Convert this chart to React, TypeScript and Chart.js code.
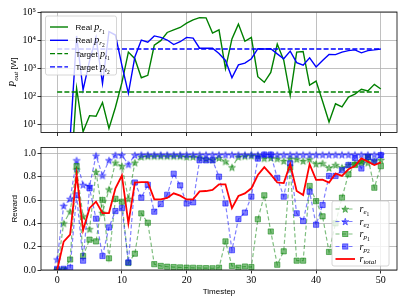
import React, { useEffect, useRef } from "react";
import { Chart, registerables } from "chart.js";

Chart.register(...registerables);

// ---------------- data ----------------
const timesteps = [
  0, 1, 2, 3, 4, 5, 6, 7, 8, 9, 10, 11, 12, 13, 14, 15, 16, 17, 18, 19, 20, 21, 22, 23, 24, 25,
  26, 27, 28, 29, 30, 31, 32, 33, 34, 35, 36, 37, 38, 39, 40, 41, 42, 43, 44, 45, 46, 47, 48, 49, 50,
];
const xTickValues = [0, 10, 20, 30, 40, 50];
const topYTickValues = [10, 100, 1000, 10000, 100000];
const bottomYTickValues = [0, 0.2, 0.4, 0.6, 0.8, 1.0];

const realPr1 = [
  0.05, 0.05, 0.05, 190, 5.3, 20, 19, 59, 7, 40,
  300, 3700, 2150, 450, 550, 6500, 9500, 18600, 23000, 28000,
  40000, 52000, 63000, 62000, 17600, 23000, 960, 11000, 37000, 9000,
  12500, 490, 310, 700, 7200, 1900, 104, 3700, 3900, 245,
  340, 65, 11.8, 53, 41, 92, 117, 174, 151, 262, 178,
];
const realPr2 = [
  1, 2, 3, 14000, 165, 1800, 12500, 280, 20000, 15000,
  1250, 125, 2500, 10000, 8300, 14000, 12400, 10000, 6900, 8700,
  12400, 11700, 5100, 5100, 5100, 3300, 1860, 450, 1300, 1500,
  2150, 4900, 4800, 4900, 3200, 2150, 4000, 1550, 1260, 2300,
  1100, 1870, 3050, 3000, 3700, 4200, 4450, 3500, 4200, 4450, 4800,
];
const targetPt1 = 140;
const targetPt2 = 4800;

const rE1 = [
  0.0, 0.4, 0.5, 0.86, 0.46, 0.35, 0.84, 0.49, 0.69, 0.92,
  0.89, 0.61, 0.92, 0.97, 0.975, 0.975, 0.975, 0.975, 0.975, 0.975,
  0.97, 0.97, 0.965, 0.95, 0.945, 0.96, 0.93, 0.88, 0.97, 0.975,
  0.98, 0.977, 0.957, 0.96, 0.955, 0.934, 0.955, 0.95, 0.934, 0.949,
  0.91, 0.914, 0.875, 0.9, 0.877, 0.9, 0.914, 0.934, 0.92, 0.934, 0.943,
];
const rE2 = [
  0.09, 0.55, 0.61, 0.94, 0.73, 0.72, 0.98, 0.81, 0.94, 0.985,
  0.985, 0.905, 0.985, 0.988, 0.988, 0.988, 0.988, 0.988, 0.988, 0.988,
  0.988, 0.988, 0.988, 0.988, 0.988, 0.988, 0.988, 0.988, 0.988, 0.988,
  0.988, 0.988, 0.988, 0.988, 0.988, 0.988, 0.988, 0.988, 0.988, 0.988,
  0.988, 0.988, 0.988, 0.988, 0.988, 0.988, 0.988, 0.988, 0.988, 0.988, 0.988,
];
const rP1 = [
  0.0, 0.0, 0.09, 0.89, 0.12, 0.26, 0.245, 0.6, 0.1, 0.61,
  0.585, 0.06, 0.14, 0.485, 0.405, 0.05, 0.035, 0.028, 0.025, 0.022,
  0.02, 0.019, 0.017, 0.016, 0.015, 0.02, 0.245, 0.035, 0.02, 0.03,
  0.025, 0.435, 0.64, 0.33, 0.045, 0.16, 0.88, 0.08, 0.08, 0.72,
  0.59, 0.46, 0.155, 0.4, 0.62, 0.82, 0.9, 0.92, 0.965, 0.705, 0.89,
];
const rP2 = [
  0.01, 0.01, 0.02, 0.64, 0.08, 0.7, 0.44, 0.12, 0.365, 0.505,
  0.53, 0.065, 0.75, 0.62, 0.73, 0.5, 0.565, 0.645, 0.825, 0.725,
  0.57, 0.58, 0.94, 0.94, 0.94, 0.8, 0.57, 0.17, 0.437, 0.492,
  0.629, 0.955, 0.99, 0.99, 0.79, 0.629, 0.914, 0.486, 0.42, 0.671,
  0.388, 0.557, 0.806, 0.806, 0.855, 0.9, 0.96, 0.87, 0.97, 0.93, 0.985,
];
const rTotal = [
  0.0, 0.243, 0.303, 0.82, 0.34, 0.53, 0.586, 0.488, 0.488, 0.7,
  0.81, 0.4, 0.75, 0.753, 0.753, 0.605, 0.605, 0.618, 0.657, 0.637,
  0.605, 0.605, 0.674, 0.677, 0.686, 0.734, 0.734, 0.53, 0.634, 0.657,
  0.7, 0.814, 0.882, 0.82, 0.75, 0.745, 0.906, 0.678, 0.643, 0.907,
  0.772, 0.774, 0.749, 0.827, 0.806, 0.863, 0.891, 0.957, 0.929, 0.9, 0.923,
];

// ---------------- styles ----------------
const GREEN = "#008000";
const BLUE = "#0000ff";
const RED = "#ff0000";
const GREEN_A = "rgba(0,128,0,0.5)";
const BLUE_A = "rgba(0,0,255,0.5)";
const GREEN_E = "rgba(0,128,0,0.65)";
const BLUE_E = "rgba(0,0,255,0.65)";
const SERIF = '"Liberation Serif", "DejaVu Serif", serif';
const SANS = '"Liberation Sans", "DejaVu Sans", sans-serif';
const GRID = "#b0b0b0";
const SUP: Record<string, string> = {
  "0": "⁰", "1": "¹", "2": "²", "3": "³", "4": "⁴", "5": "⁵", "6": "⁶", "7": "⁷", "8": "⁸", "9": "⁹",
};

type Seg = { t: string; font: string; dy?: number };

function drawSegs(ctx: CanvasRenderingContext2D, x: number, y: number, segs: Seg[], center: boolean) {
  ctx.save();
  ctx.textBaseline = "alphabetic";
  ctx.textAlign = "left";
  let w = 0;
  for (const s of segs) {
    ctx.font = s.font;
    w += ctx.measureText(s.t).width;
  }
  let cx = center ? x - w / 2 : x;
  for (const s of segs) {
    ctx.font = s.font;
    ctx.fillText(s.t, cx, y + (s.dy || 0));
    cx += ctx.measureText(s.t).width;
  }
  ctx.restore();
}

function starPath(ctx: CanvasRenderingContext2D, cx: number, cy: number, R: number, r: number) {
  ctx.beginPath();
  for (let i = 0; i < 10; i++) {
    const a = -Math.PI / 2 + (i * Math.PI) / 5;
    const rad = i % 2 === 0 ? R : r;
    const px = cx + rad * Math.cos(a);
    const py = cy + rad * Math.sin(a);
    if (i === 0) ctx.moveTo(px, py);
    else ctx.lineTo(px, py);
  }
  ctx.closePath();
}

function makeStar(fill: string, edge: string) {
  const c = document.createElement("canvas");
  c.width = 10;
  c.height = 10;
  const g = c.getContext("2d")!;
  starPath(g, 5, 5.4, 3.7, 1.5);
  g.fillStyle = fill;
  g.fill();
  g.strokeStyle = edge;
  g.lineWidth = 0.7;
  g.stroke();
  return c;
}

type LegendItem = {
  segs: Seg[];
  color: string;
  width: number;
  dash: number[];
  marker?: "star" | "square";
  mFill?: string;
  mEdge?: string;
};

function drawLegend(
  ctx: CanvasRenderingContext2D,
  box: [number, number, number, number],
  rows: number[],
  hx0: number,
  hx1: number,
  tx: number,
  items: LegendItem[]
) {
  const [x0, y0, x1, y1] = box;
  ctx.save();
  const r = 2;
  ctx.beginPath();
  ctx.moveTo(x0 + r, y0);
  ctx.lineTo(x1 - r, y0);
  ctx.arcTo(x1, y0, x1, y0 + r, r);
  ctx.lineTo(x1, y1 - r);
  ctx.arcTo(x1, y1, x1 - r, y1, r);
  ctx.lineTo(x0 + r, y1);
  ctx.arcTo(x0, y1, x0, y1 - r, r);
  ctx.lineTo(x0, y0 + r);
  ctx.arcTo(x0, y0, x0 + r, y0, r);
  ctx.closePath();
  ctx.fillStyle = "rgba(255,255,255,0.8)";
  ctx.fill();
  ctx.strokeStyle = "#cccccc";
  ctx.lineWidth = 0.8;
  ctx.stroke();
  items.forEach((it, i) => {
    const yc = rows[i];
    ctx.beginPath();
    ctx.setLineDash(it.dash);
    ctx.strokeStyle = it.color;
    ctx.lineWidth = it.width;
    ctx.moveTo(hx0, yc);
    ctx.lineTo(hx1, yc);
    ctx.stroke();
    ctx.setLineDash([]);
    const mx = (hx0 + hx1) / 2;
    if (it.marker === "star") {
      starPath(ctx, mx, yc + 0.4, 3.7, 1.5);
      ctx.fillStyle = it.mFill!;
      ctx.fill();
      ctx.strokeStyle = it.mEdge!;
      ctx.lineWidth = 0.7;
      ctx.stroke();
    } else if (it.marker === "square") {
      ctx.fillStyle = it.mFill!;
      ctx.fillRect(mx - 2.6, yc - 2.6, 5.2, 5.2);
      ctx.strokeStyle = it.mEdge!;
      ctx.lineWidth = 0.8;
      ctx.strokeRect(mx - 2.6, yc - 2.6, 5.2, 5.2);
    }
    ctx.fillStyle = "#000";
    drawSegs(ctx, tx, yc + 3, it.segs, false);
  });
  ctx.restore();
}

const framePlugin = {
  id: "frame",
  afterDatasetsDraw(chart: any) {
    const { ctx, chartArea: a } = chart;
    ctx.save();
    ctx.strokeStyle = "#000";
    ctx.lineWidth = 0.8;
    ctx.strokeRect(a.left, a.top, a.right - a.left, a.bottom - a.top);
    ctx.restore();
  },
};

const mathP = (sub: string, subsub: string): Seg[] => [
  { t: "p", font: `italic 10px ${SERIF}` },
  { t: sub, font: `italic 7px ${SERIF}`, dy: 2 },
  { t: subsub, font: `5.5px ${SERIF}`, dy: 3.6 },
];
const mathR = (sub: string, subsub: string): Seg[] => [
  { t: "r", font: `italic 10px ${SERIF}` },
  { t: sub, font: `italic 7px ${SERIF}`, dy: 2 },
  { t: subsub, font: `5.5px ${SERIF}`, dy: 3.6 },
];

const topDecor = {
  id: "topDecor",
  afterDraw(chart: any) {
    const ctx: CanvasRenderingContext2D = chart.ctx;
    const sans = `8px ${SANS}`;
    drawLegend(ctx, [45.5, 16, 116.5, 75], [27, 40.3, 53.6, 66.9], 50, 68, 75.5, [
      { segs: [{ t: "Real ", font: sans }, ...mathP("r", "1")], color: GREEN, width: 1.4, dash: [] },
      { segs: [{ t: "Real ", font: sans }, ...mathP("r", "2")], color: BLUE, width: 1.4, dash: [] },
      { segs: [{ t: "Target ", font: sans }, ...mathP("t", "1")], color: GREEN, width: 1.4, dash: [5, 2.2] },
      { segs: [{ t: "Target ", font: sans }, ...mathP("t", "2")], color: BLUE, width: 1.4, dash: [5, 2.2] },
    ]);
    const a = chart.chartArea;
    ctx.save();
    ctx.translate(15.5, (a.top + a.bottom) / 2);
    ctx.rotate(-Math.PI / 2);
    ctx.fillStyle = "#000";
    drawSegs(ctx, 0, 0, [
      { t: "P", font: `italic 10px ${SERIF}` },
      { t: "out", font: `italic 7px ${SERIF}`, dy: 2 },
      { t: " [W]", font: `8px ${SANS}` },
    ], true);
    ctx.restore();
  },
};

const bottomDecor = {
  id: "bottomDecor",
  afterDraw(chart: any) {
    const ctx: CanvasRenderingContext2D = chart.ctx;
    drawLegend(ctx, [332, 61, 389, 126], [69, 81.5, 94, 106.5, 119], 335.5, 355, 359.5, [
      { segs: mathR("e", "1"), color: GREEN_A, width: 1.2, dash: [4, 2.5], marker: "star", mFill: GREEN_A, mEdge: GREEN_E },
      { segs: mathR("e", "2"), color: BLUE_A, width: 1.2, dash: [4, 2.5], marker: "star", mFill: BLUE_A, mEdge: BLUE_E },
      { segs: mathR("p", "1"), color: GREEN_A, width: 1.2, dash: [4, 2.5], marker: "square", mFill: GREEN_A, mEdge: GREEN_E },
      { segs: mathR("p", "2"), color: BLUE_A, width: 1.2, dash: [4, 2.5], marker: "square", mFill: BLUE_A, mEdge: BLUE_E },
      {
        segs: [
          { t: "r", font: `italic 10px ${SERIF}` },
          { t: "total", font: `italic 7px ${SERIF}`, dy: 2 },
        ],
        color: RED,
        width: 1.8,
        dash: [],
      },
    ]);
    const a = chart.chartArea;
    ctx.save();
    ctx.fillStyle = "#000";
    drawSegs(ctx, (a.left + a.right) / 2, 154, [{ t: "Timestep", font: `8px ${SANS}` }], true);
    ctx.translate(16.5, (a.top + a.bottom) / 2);
    ctx.rotate(-Math.PI / 2);
    drawSegs(ctx, 0, 0, [{ t: "Reward", font: `8px ${SANS}` }], true);
    ctx.restore();
  },
};

const gridOpts = {
  color: GRID,
  lineWidth: 0.8,
  drawTicks: true,
  tickLength: 3.5,
  tickColor: "#000",
  tickWidth: 0.8,
};
const tickFont = { family: SERIF, size: 10 };

function pts(arr: number[]) {
  return timesteps.map((t, i) => ({ x: t, y: arr[i] }));
}

function xScale(showLabels: boolean, height: number) {
  return {
    type: "linear",
    min: -2.5,
    max: 52.5,
    afterBuildTicks: (s: any) => {
      s.ticks = xTickValues.map((v) => ({ value: v }));
    },
    afterFit: (s: any) => {
      s.height = height;
    },
    ticks: {
      autoSkip: false,
      maxRotation: 0,
      color: "#000",
      font: tickFont,
      padding: 1,
      callback: (v: any) => (showLabels ? String(v) : ""),
    },
    grid: gridOpts,
    border: { display: false },
  };
}

export default function App() {
  const topRef = useRef<HTMLCanvasElement>(null);
  const botRef = useRef<HTMLCanvasElement>(null);

  useEffect(() => {
    const starG = makeStar(GREEN_A, GREEN_E);
    const starB = makeStar(BLUE_A, BLUE_E);

    const top = new Chart(topRef.current!, {
      type: "line",
      data: {
        datasets: [
          { data: pts(realPr1), borderColor: GREEN, borderWidth: 1.4, pointRadius: 0, order: 3 },
          { data: pts(realPr2), borderColor: BLUE, borderWidth: 1.4, pointRadius: 0, order: 2 },
          {
            data: [
              { x: timesteps[0], y: targetPt1 },
              { x: timesteps[timesteps.length - 1], y: targetPt1 },
            ],
            borderColor: GREEN,
            borderWidth: 1.4,
            borderDash: [5, 2.2],
            pointRadius: 0,
            order: 1,
          },
          {
            data: [
              { x: timesteps[0], y: targetPt2 },
              { x: timesteps[timesteps.length - 1], y: targetPt2 },
            ],
            borderColor: BLUE,
            borderWidth: 1.4,
            borderDash: [5, 2.2],
            pointRadius: 0,
            order: 0,
          },
        ],
      },
      options: {
        responsive: false,
        animation: false,
        layout: { padding: { left: 0, right: 10, top: 12, bottom: 0 } },
        plugins: { legend: { display: false }, tooltip: { enabled: false } },
        elements: { line: { tension: 0, fill: false } },
        scales: {
          x: xScale(false, 5),
          y: {
            type: "logarithmic",
            min: 5,
            max: 100000,
            afterBuildTicks: (s: any) => {
              s.ticks = topYTickValues.map((v) => ({ value: v }));
            },
            afterFit: (s: any) => {
              s.width = 41;
            },
            ticks: {
              autoSkip: false,
              color: "#000",
              font: tickFont,
              padding: 1.5,
              callback: (v: any) => {
                const e = String(Math.round(Math.log10(Number(v))));
                return "10" + e.split("").map((c) => SUP[c]).join("");
              },
            },
            grid: gridOpts,
            border: { display: false },
          },
        },
      } as any,
      plugins: [framePlugin, topDecor],
    } as any);

    const dashed = [4, 2.5];
    const bottom = new Chart(botRef.current!, {
      type: "line",
      data: {
        datasets: [
          {
            data: pts(rE1), borderColor: GREEN_A, borderWidth: 1.2, borderDash: dashed,
            pointStyle: starG, pointRadius: 4, order: 4,
          },
          {
            data: pts(rE2), borderColor: BLUE_A, borderWidth: 1.2, borderDash: dashed,
            pointStyle: starB, pointRadius: 4, order: 3,
          },
          {
            data: pts(rP1), borderColor: GREEN_A, borderWidth: 1.2, borderDash: dashed,
            pointStyle: "rect", pointRadius: 3.7, pointBackgroundColor: GREEN_A,
            pointBorderColor: GREEN_E, pointBorderWidth: 0.8, order: 2,
          },
          {
            data: pts(rP2), borderColor: BLUE_A, borderWidth: 1.2, borderDash: dashed,
            pointStyle: "rect", pointRadius: 3.7, pointBackgroundColor: BLUE_A,
            pointBorderColor: BLUE_E, pointBorderWidth: 0.8, order: 1,
          },
          { data: pts(rTotal), borderColor: RED, borderWidth: 1.8, pointRadius: 0, order: 0 },
        ],
      },
      options: {
        responsive: false,
        animation: false,
        layout: { padding: { left: 0, right: 10, top: 7, bottom: 0 } },
        plugins: { legend: { display: false }, tooltip: { enabled: false } },
        elements: { line: { tension: 0, fill: false } },
        scales: {
          x: xScale(true, 35),
          y: {
            type: "linear",
            min: 0,
            max: 1.05,
            afterBuildTicks: (s: any) => {
              s.ticks = bottomYTickValues.map((v) => ({ value: v }));
            },
            afterFit: (s: any) => {
              s.width = 41;
            },
            ticks: {
              autoSkip: false,
              color: "#000",
              font: tickFont,
              padding: 1.5,
              callback: (v: any) => Number(v).toFixed(1),
            },
            grid: gridOpts,
            border: { display: false },
          },
        },
      } as any,
      plugins: [framePlugin, bottomDecor],
    } as any);

    return () => {
      top.destroy();
      bottom.destroy();
    };
  }, []);

  return (
    <div style={{ position: "fixed", left: 0, top: 0, width: 407, height: 305, background: "#fff" }}>
      <canvas
        ref={topRef}
        width={407}
        height={140}
        style={{ position: "absolute", left: 0, top: 0, width: 407, height: 140 }}
      />
      <canvas
        ref={botRef}
        width={407}
        height={165}
        style={{ position: "absolute", left: 0, top: 140, width: 407, height: 165 }}
      />
    </div>
  );
}
